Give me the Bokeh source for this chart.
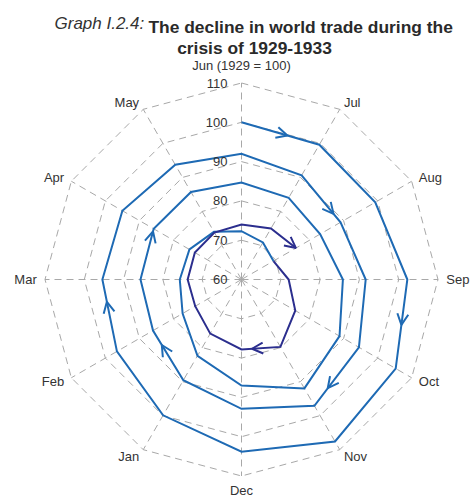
import numpy as np
from bokeh.plotting import figure
from bokeh.models import Range1d, Arrow, OpenHead, ColumnDataSource
from bokeh.core.properties import value
from bokeh.embed import file_html
from bokeh.resources import INLINE

# ---------------- data ----------------
month_labels = ["Jun (1929 = 100)", "Jul", "Aug", "Sep", "Oct", "Nov",
                "Dec", "Jan", "Feb", "Mar", "Apr", "May"]
r_ticks = [60, 70, 80, 90, 100, 110]
r_tick_labels = ["60", "70", "80", "90", "100", "110"]

# world trade index, Jun 1929 = 100, monthly starting June
trade_1929_30 = [100.0, 99.6, 99.3, 102.2, 105.3, 107.6, 103.8, 99.9, 96.6, 95.4, 95.0, 93.7]
trade_1930_31 = [92.0, 90.6, 89.1, 91.6, 94.5, 97.1, 92.9, 89.6, 86.0, 85.7, 85.8, 85.7]
trade_1931_32 = [84.7, 84.0, 83.1, 85.8, 88.8, 92.0, 87.0, 82.4, 77.3, 75.7, 75.3, 74.0]
trade_1932_33 = [72.3, 70.9, 69.4, 72.0, 75.8, 79.8, 77.8, 75.9, 73.6, 73.7, 73.7, 73.8]
trade_1933 = [74.0, 75.0, 76.0]

# segment (start index) carrying a direction arrow, and the arrow tip position along it
arrow_segments = [0, 3, 8, 13, 16, 19, 21, 41, 49]
arrow_fracs = [0.59, 0.51, 0.69, 0.82, 0.70, 0.71, 0.95, 0.73, 1.0]

NAVY_FROM = 38  # index (Aug 1932) from which the line is drawn dark

BLUE = "#1e6ab4"
NAVY = "#2b2e8e"
GRID = "#a8a8a8"
TXT = "#333333"
FONT = "Liberation Sans"

# ---------------- geometry ----------------
R0 = r_ticks[0]
RMAX = r_ticks[-1] - R0
S = 3.93                       # px per unit
W, H = 470, 499
CX, CY = 241, 279              # centre in figure pixels (from top-left)
x0, x1 = -CX / S, (W - CX) / S
y1, y0 = CY / S, -(H - CY) / S

def ang(k):
    return np.deg2rad(90 - 30 * (k % 12))

vals = np.array(trade_1929_30 + trade_1930_31 + trade_1931_32 + trade_1932_33 + trade_1933)
idx = np.arange(len(vals))
rr = vals - R0
xs = rr * np.cos(ang(idx))
ys = rr * np.sin(ang(idx))

p = figure(width=W, height=H, x_range=Range1d(x0, x1), y_range=Range1d(y0, y1),
           output_backend="svg", toolbar_location=None, min_border=0)
p.axis.visible = False
p.grid.visible = False
p.outline_line_color = None
p.background_fill_color = "white"
p.border_fill_color = "white"

# grid rings (dodecagons)
k12 = np.arange(13)
for t in r_ticks[1:]:
    r = t - R0
    p.line(r * np.cos(ang(k12)), r * np.sin(ang(k12)), line_color=GRID,
           line_width=1, line_dash="7 5")
# spokes
for k in range(12):
    p.line([0, RMAX * np.cos(ang(k))], [0, RMAX * np.sin(ang(k))],
           line_color=GRID, line_width=1, line_dash="7 5")

# data line
p.line(xs[:NAVY_FROM + 1], ys[:NAVY_FROM + 1], line_color=BLUE, line_width=2,
       line_join="miter")
p.line(xs[NAVY_FROM:], ys[NAVY_FROM:], line_color=NAVY, line_width=2,
       line_join="miter")

# arrows
for col, sel in ((BLUE, lambda s: s < NAVY_FROM), (NAVY, lambda s: s >= NAVY_FROM)):
    xsA, ysA, xeA, yeA = [], [], [], []
    for s, f in zip(arrow_segments, arrow_fracs):
        if not sel(s):
            continue
        dx, dy = xs[s + 1] - xs[s], ys[s + 1] - ys[s]
        L = np.hypot(dx, dy)
        tx, ty = xs[s] + f * dx, ys[s] + f * dy
        xeA.append(tx); yeA.append(ty)
        xsA.append(tx - 0.5 * dx / L); ysA.append(ty - 0.5 * dy / L)
    src = ColumnDataSource(dict(xs=xsA, ys=ysA, xe=xeA, ye=yeA))
    p.add_layout(Arrow(end=OpenHead(size=11, line_color=col, line_width=2),
                       x_start="xs", y_start="ys", x_end="xe", y_end="ye",
                       source=src, line_alpha=0))

# radial tick labels
p.text(x=[-14 / S] * len(r_ticks), y=[t - R0 for t in r_ticks], text=r_tick_labels,
       text_align="right", text_baseline="middle", text_font=value(FONT),
       text_font_size="13px", text_color=TXT)

# month labels
lx, ly, la = [], [], []
for k, lab in enumerate(month_labels):
    a = ang(k)
    c, s_ = np.cos(a), np.sin(a)
    if s_ > 0.99:
        rl = RMAX + 4.4
    elif s_ < -0.99:
        rl = RMAX + 3.6
    else:
        rl = RMAX + 2.1
    lx.append(rl * c); ly.append(rl * s_)
    la.append("left" if c > 0.01 else ("right" if c < -0.01 else "center"))
p.text(x=lx, y=ly, text=month_labels, text_align=la, text_baseline="middle",
       text_font=value(FONT), text_font_size="13px", text_color=TXT)

# title
def px2x(px):
    return x0 + px / S
def py2y(py):
    return y1 - py / S

p.text(x=[px2x(54)], y=[py2y(22.5)], text=["Graph I.2.4:"], text_align="left",
       text_baseline="alphabetic", text_font=value(FONT), text_font_size="17px",
       text_font_style="italic", text_color=TXT)
p.text(x=[px2x(148)], y=[py2y(26)], text=["The decline in world trade during the"],
       text_align="left", text_baseline="alphabetic", text_font=value(FONT),
       text_font_size="17.4px", text_font_style="bold", text_color="#2a2a2a")
p.text(x=[px2x(254)], y=[py2y(47.5)], text=["crisis of 1929-1933"],
       text_align="center", text_baseline="alphabetic", text_font=value(FONT),
       text_font_size="17.4px", text_font_style="bold", text_color="#2a2a2a")

open("out.html", "w").write(file_html(p, INLINE))
